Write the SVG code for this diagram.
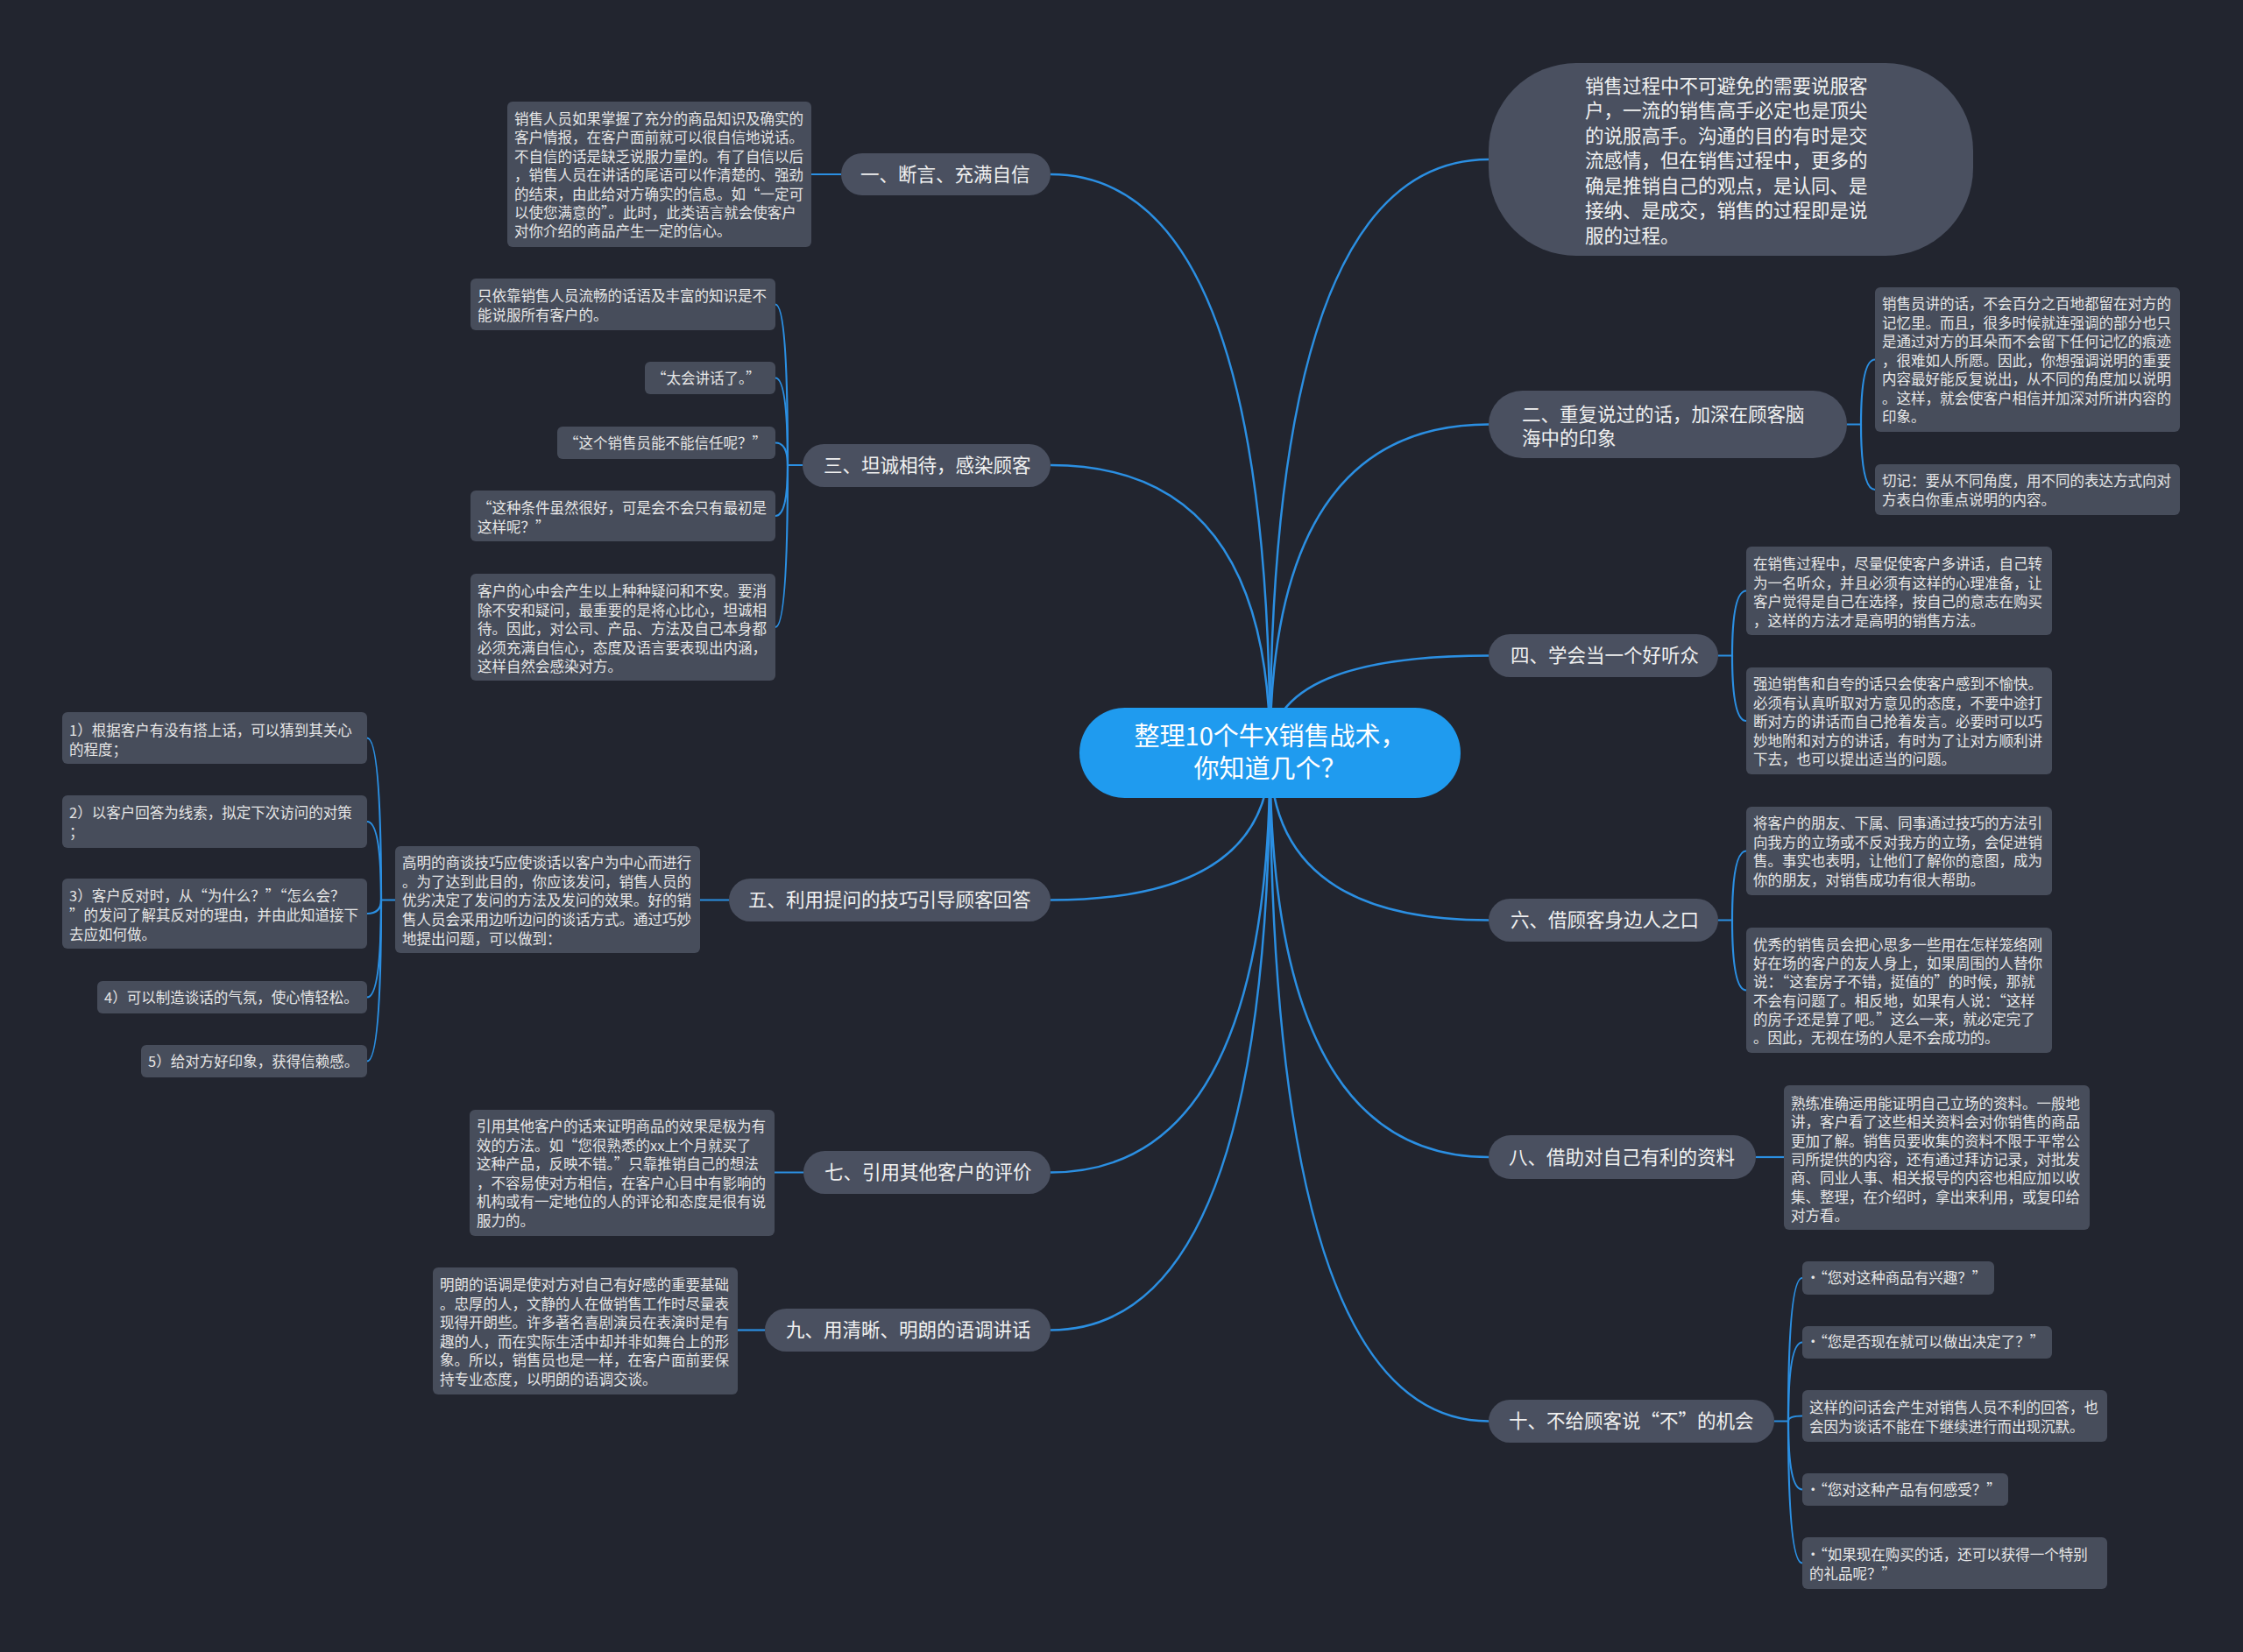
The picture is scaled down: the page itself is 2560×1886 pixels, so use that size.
<svg xmlns="http://www.w3.org/2000/svg" width="2560" height="1886" viewBox="0 0 2560 1886">
<style>
.n{fill:#4a5060}
.b{fill:#474d5b}
.c{fill:#1f9bef}
.tm{font-family:"Noto Sans CJK SC","Noto Sans",sans-serif;font-size:21.5px;fill:#f0f0f0}
.ts{font-family:"Noto Sans CJK SC","Noto Sans",sans-serif;font-size:16.5px;fill:#e6e6e6}
.tc{font-family:"Noto Sans CJK SC","Noto Sans",sans-serif;font-size:29px;fill:#ffffff;text-anchor:middle}
.l{fill:none;stroke:#2b8fe2;stroke-width:2.5}
.s{fill:none;stroke:#2b8fe2;stroke-width:2.2}
</style>
<rect x="0" y="0" width="2560" height="1886" fill="#22252f"/>
<g id="connectors">
<path class="l" d="M1449.5,859.5 Q1449.5,182 1699,182"/>
<path class="l" d="M1449.5,859.5 Q1449.5,484.5 1699,484.5"/>
<path class="l" d="M1449.5,859.5 Q1449.5,748.5 1699,748.5"/>
<path class="l" d="M1449.5,859.5 Q1449.5,1050.5 1699,1050.5"/>
<path class="l" d="M1449.5,859.5 Q1449.5,1321 1699,1321"/>
<path class="l" d="M1449.5,859.5 Q1449.5,1622.5 1699,1622.5"/>
<path class="l" d="M1449.5,859.5 Q1449.5,199 1199,199"/>
<path class="l" d="M1449.5,859.5 Q1449.5,531 1199,531"/>
<path class="l" d="M1449.5,859.5 Q1449.5,1027.5 1199,1027.5"/>
<path class="l" d="M1449.5,859.5 Q1449.5,1338.5 1199,1338.5"/>
<path class="l" d="M1449.5,859.5 Q1449.5,1518.5 1199,1518.5"/>
<path class="s" d="M960,199 H926"/>
<path class="s" d="M916,531 H899 Q899,347.5 885,347.5"/>
<path class="s" d="M899,531 Q899,431.5 885,431.5"/>
<path class="s" d="M899,531 Q899,505.5 885,505.5"/>
<path class="s" d="M899,531 Q899,589 885,589"/>
<path class="s" d="M899,531 Q899,716 885,716"/>
<path class="s" d="M832,1027.5 H799"/>
<path class="s" d="M451,1027.5 H435 Q435,842.5 419,842.5"/>
<path class="s" d="M435,1027.5 Q435,938 419,938"/>
<path class="s" d="M435,1027.5 Q435,1043 419,1043"/>
<path class="s" d="M435,1027.5 Q435,1138.5 419,1138.5"/>
<path class="s" d="M435,1027.5 Q435,1211.5 419,1211.5"/>
<path class="s" d="M917,1338.5 H884"/>
<path class="s" d="M873,1518.5 H842"/>
<path class="s" d="M2108,484.5 H2124 Q2124,410.5 2140,410.5"/>
<path class="s" d="M2124,484.5 Q2124,559 2140,559"/>
<path class="s" d="M1961,748.5 H1977 Q1977,674.5 1993,674.5"/>
<path class="s" d="M1977,748.5 Q1977,823 1993,823"/>
<path class="s" d="M1961,1050.5 H1977 Q1977,971.5 1993,971.5"/>
<path class="s" d="M1977,1050.5 Q1977,1130.5 1993,1130.5"/>
<path class="s" d="M2004,1321 H2036"/>
<path class="s" d="M2025,1622.5 H2041 Q2041,1459 2057,1459"/>
<path class="s" d="M2041,1622.5 Q2041,1532.5 2057,1532.5"/>
<path class="s" d="M2041,1622.5 Q2041,1616.5 2057,1616.5"/>
<path class="s" d="M2041,1622.5 Q2041,1700.5 2057,1700.5"/>
<path class="s" d="M2041,1622.5 Q2041,1784.5 2057,1784.5"/>
</g>
<g id="center">
<rect class="c" x="1232" y="808" width="435" height="103" rx="51.5"/>
<text class="tc" x="1449.5" y="851">整理10个牛X销售战术，</text>
<text class="tc" x="1449.5" y="888">你知道几个？</text>
</g>
<g id="intro">
<rect class="n" x="1699" y="72" width="553" height="220" rx="100"/>
<text class="tm"><tspan x="1809" y="105.5">销售过程中不可避免的需要说服客</tspan><tspan x="1809" y="134">户，一流的销售高手必定也是顶尖</tspan><tspan x="1809" y="162.5">的说服高手。沟通的目的有时是交</tspan><tspan x="1809" y="191">流感情，但在销售过程中，更多的</tspan><tspan x="1809" y="219.5">确是推销自己的观点，是认同、是</tspan><tspan x="1809" y="248">接纳、是成交，销售的过程即是说</tspan><tspan x="1809" y="276.5">服的过程。</tspan></text>
</g>
<g id="n1">
<rect class="n" x="960" y="175" width="239" height="48" rx="24"/>
<text class="tm" x="982" y="206.5">一、断言、充满自信</text>
</g>
<g id="n1-1">
<rect class="b" x="579" y="116" width="347" height="166" rx="6"/>
<text class="ts"><tspan x="587" y="142">销售人员如果掌握了充分的商品知识及确实的</tspan><tspan x="587" y="163.4">客户情报，在客户面前就可以很自信地说话。</tspan><tspan x="587" y="184.8">不自信的话是缺乏说服力量的。有了自信以后</tspan><tspan x="587" y="206.2">，销售人员在讲话的尾语可以作清楚的、强劲</tspan><tspan x="587" y="227.6">的结束，由此给对方确实的信息。如“一定可</tspan><tspan x="587" y="249">以使您满意的”。此时，此类语言就会使客户</tspan><tspan x="587" y="270.4">对你介绍的商品产生一定的信心。</tspan></text>
</g>
<g id="n3">
<rect class="n" x="916" y="507" width="283" height="49" rx="24.5"/>
<text class="tm" x="940" y="539">三、坦诚相待，感染顾客</text>
</g>
<g id="n3-1">
<rect class="b" x="537" y="318" width="348" height="59" rx="6"/>
<text class="ts"><tspan x="545" y="344">只依靠销售人员流畅的话语及丰富的知识是不</tspan><tspan x="545" y="366">能说服所有客户的。</tspan></text>
</g>
<g id="n3-2">
<rect class="b" x="736" y="413" width="149" height="37" rx="6"/>
<text class="ts" x="744" y="437.5">“太会讲话了。”</text>
</g>
<g id="n3-3">
<rect class="b" x="636" y="487" width="249" height="37" rx="6"/>
<text class="ts" x="644" y="511.5">“这个销售员能不能信任呢？”</text>
</g>
<g id="n3-4">
<rect class="b" x="537" y="560" width="348" height="58" rx="6"/>
<text class="ts"><tspan x="545" y="586">“这种条件虽然很好，可是会不会只有最初是</tspan><tspan x="545" y="607.5">这样呢？”</tspan></text>
</g>
<g id="n3-5">
<rect class="b" x="537" y="655" width="348" height="122" rx="6"/>
<text class="ts"><tspan x="545" y="681">客户的心中会产生以上种种疑问和不安。要消</tspan><tspan x="545" y="702.5">除不安和疑问，最重要的是将心比心，坦诚相</tspan><tspan x="545" y="724">待。因此，对公司、产品、方法及自己本身都</tspan><tspan x="545" y="745.5">必须充满自信心，态度及语言要表现出内涵，</tspan><tspan x="545" y="767">这样自然会感染对方。</tspan></text>
</g>
<g id="n5">
<rect class="n" x="832" y="1003" width="367" height="49" rx="24.5"/>
<text class="tm" x="854" y="1035">五、利用提问的技巧引导顾客回答</text>
</g>
<g id="n5-1">
<rect class="b" x="451" y="966" width="348" height="122" rx="6"/>
<text class="ts"><tspan x="459" y="991">高明的商谈技巧应使谈话以客户为中心而进行</tspan><tspan x="459" y="1012.7">。为了达到此目的，你应该发问，销售人员的</tspan><tspan x="459" y="1034.4">优劣决定了发问的方法及发问的效果。好的销</tspan><tspan x="459" y="1056.1">售人员会采用边听边问的谈话方式。通过巧妙</tspan><tspan x="459" y="1077.8">地提出问题，可以做到：</tspan></text>
</g>
<g id="n5-1-1">
<rect class="b" x="71" y="813" width="348" height="59" rx="6"/>
<text class="ts"><tspan x="79" y="840">1）根据客户有没有搭上话，可以猜到其关心</tspan><tspan x="79" y="862">的程度；</tspan></text>
</g>
<g id="n5-1-2">
<rect class="b" x="71" y="908" width="348" height="60" rx="6"/>
<text class="ts"><tspan x="79" y="934">2）以客户回答为线索，拟定下次访问的对策</tspan><tspan x="79" y="956">；</tspan></text>
</g>
<g id="n5-1-3">
<rect class="b" x="71" y="1003" width="348" height="80" rx="6"/>
<text class="ts"><tspan x="79" y="1029">3）客户反对时，从“为什么？”“怎么会？</tspan><tspan x="79" y="1051">”的发问了解其反对的理由，并由此知道接下</tspan><tspan x="79" y="1073">去应如何做。</tspan></text>
</g>
<g id="n5-1-4">
<rect class="b" x="111" y="1120" width="308" height="37" rx="6"/>
<text class="ts" x="119" y="1144.5">4）可以制造谈话的气氛，使心情轻松。</text>
</g>
<g id="n5-1-5">
<rect class="b" x="161" y="1193" width="258" height="37" rx="6"/>
<text class="ts" x="169" y="1217.5">5）给对方好印象，获得信赖感。</text>
</g>
<g id="n7">
<rect class="n" x="917" y="1314" width="282" height="49" rx="24.5"/>
<text class="tm" x="941" y="1346">七、引用其他客户的评价</text>
</g>
<g id="n7-1">
<rect class="b" x="536" y="1267" width="348" height="144" rx="6"/>
<text class="ts"><tspan x="544" y="1292">引用其他客户的话来证明商品的效果是极为有</tspan><tspan x="544" y="1313.6">效的方法。如“您很熟悉的xx上个月就买了</tspan><tspan x="544" y="1335.2">这种产品，反映不错。”只靠推销自己的想法</tspan><tspan x="544" y="1356.8">，不容易使对方相信，在客户心目中有影响的</tspan><tspan x="544" y="1378.4">机构或有一定地位的人的评论和态度是很有说</tspan><tspan x="544" y="1400">服力的。</tspan></text>
</g>
<g id="n9">
<rect class="n" x="873" y="1494" width="326" height="49" rx="24.5"/>
<text class="tm" x="897" y="1526">九、用清晰、明朗的语调讲话</text>
</g>
<g id="n9-1">
<rect class="b" x="494" y="1447" width="348" height="145" rx="6"/>
<text class="ts"><tspan x="502" y="1473">明朗的语调是使对方对自己有好感的重要基础</tspan><tspan x="502" y="1494.6">。忠厚的人，文静的人在做销售工作时尽量表</tspan><tspan x="502" y="1516.2">现得开朗些。许多著名喜剧演员在表演时是有</tspan><tspan x="502" y="1537.8">趣的人，而在实际生活中却并非如舞台上的形</tspan><tspan x="502" y="1559.4">象。所以，销售员也是一样，在客户面前要保</tspan><tspan x="502" y="1581">持专业态度，以明朗的语调交谈。</tspan></text>
</g>
<g id="n2">
<rect class="n" x="1699" y="446" width="409" height="77" rx="38.5"/>
<text class="tm"><tspan x="1737" y="480.5">二、重复说过的话，加深在顾客脑</tspan><tspan x="1737" y="507.5">海中的印象</tspan></text>
</g>
<g id="n2-1">
<rect class="b" x="2140" y="328" width="348" height="165" rx="6"/>
<text class="ts"><tspan x="2148" y="353">销售员讲的话，不会百分之百地都留在对方的</tspan><tspan x="2148" y="374.5">记忆里。而且，很多时候就连强调的部分也只</tspan><tspan x="2148" y="396">是通过对方的耳朵而不会留下任何记忆的痕迹</tspan><tspan x="2148" y="417.5">，很难如人所愿。因此，你想强调说明的重要</tspan><tspan x="2148" y="439">内容最好能反复说出，从不同的角度加以说明</tspan><tspan x="2148" y="460.5">。这样，就会使客户相信并加深对所讲内容的</tspan><tspan x="2148" y="482">印象。</tspan></text>
</g>
<g id="n2-2">
<rect class="b" x="2140" y="530" width="348" height="58" rx="6"/>
<text class="ts"><tspan x="2148" y="555">切记：要从不同角度，用不同的表达方式向对</tspan><tspan x="2148" y="576.5">方表白你重点说明的内容。</tspan></text>
</g>
<g id="n4">
<rect class="n" x="1699" y="724" width="262" height="49" rx="24.5"/>
<text class="tm" x="1724" y="756">四、学会当一个好听众</text>
</g>
<g id="n4-1">
<rect class="b" x="1993" y="624" width="349" height="101" rx="6"/>
<text class="ts"><tspan x="2001" y="650">在销售过程中，尽量促使客户多讲话，自己转</tspan><tspan x="2001" y="671.7">为一名听众，并且必须有这样的心理准备，让</tspan><tspan x="2001" y="693.3">客户觉得是自己在选择，按自己的意志在购买</tspan><tspan x="2001" y="715">，这样的方法才是高明的销售方法。</tspan></text>
</g>
<g id="n4-2">
<rect class="b" x="1993" y="762" width="349" height="122" rx="6"/>
<text class="ts"><tspan x="2001" y="787">强迫销售和自夸的话只会使客户感到不愉快。</tspan><tspan x="2001" y="808.5">必须有认真听取对方意见的态度，不要中途打</tspan><tspan x="2001" y="830">断对方的讲话而自己抢着发言。必要时可以巧</tspan><tspan x="2001" y="851.5">妙地附和对方的讲话，有时为了让对方顺利讲</tspan><tspan x="2001" y="873">下去，也可以提出适当的问题。</tspan></text>
</g>
<g id="n6">
<rect class="n" x="1699" y="1026" width="262" height="49" rx="24.5"/>
<text class="tm" x="1724" y="1058">六、借顾客身边人之口</text>
</g>
<g id="n6-1">
<rect class="b" x="1993" y="921" width="349" height="101" rx="6"/>
<text class="ts"><tspan x="2001" y="946">将客户的朋友、下属、同事通过技巧的方法引</tspan><tspan x="2001" y="967.7">向我方的立场或不反对我方的立场，会促进销</tspan><tspan x="2001" y="989.3">售。事实也表明，让他们了解你的意图，成为</tspan><tspan x="2001" y="1011">你的朋友，对销售成功有很大帮助。</tspan></text>
</g>
<g id="n6-2">
<rect class="b" x="1993" y="1059" width="349" height="143" rx="6"/>
<text class="ts"><tspan x="2001" y="1085">优秀的销售员会把心思多一些用在怎样笼络刚</tspan><tspan x="2001" y="1106.2">好在场的客户的友人身上，如果周围的人替你</tspan><tspan x="2001" y="1127.4">说：“这套房子不错，挺值的”的时候，那就</tspan><tspan x="2001" y="1148.6">不会有问题了。相反地，如果有人说：“这样</tspan><tspan x="2001" y="1169.8">的房子还是算了吧。”这么一来，就必定完了</tspan><tspan x="2001" y="1191">。因此，无视在场的人是不会成功的。</tspan></text>
</g>
<g id="n8">
<rect class="n" x="1699" y="1296" width="305" height="50" rx="25"/>
<text class="tm" x="1722" y="1328.5">八、借助对自己有利的资料</text>
</g>
<g id="n8-1">
<rect class="b" x="2036" y="1239" width="349" height="165" rx="6"/>
<text class="ts"><tspan x="2044" y="1266">熟练准确运用能证明自己立场的资料。一般地</tspan><tspan x="2044" y="1287.3">讲，客户看了这些相关资料会对你销售的商品</tspan><tspan x="2044" y="1308.7">更加了解。销售员要收集的资料不限于平常公</tspan><tspan x="2044" y="1330">司所提供的内容，还有通过拜访记录，对批发</tspan><tspan x="2044" y="1351.3">商、同业人事、相关报导的内容也相应加以收</tspan><tspan x="2044" y="1372.7">集、整理，在介绍时，拿出来利用，或复印给</tspan><tspan x="2044" y="1394">对方看。</tspan></text>
</g>
<g id="n10">
<rect class="n" x="1699" y="1598" width="326" height="49" rx="24.5"/>
<text class="tm" x="1722" y="1630">十、不给顾客说“不”的机会</text>
</g>
<g id="n10-1">
<rect class="b" x="2057" y="1440" width="219" height="38" rx="6"/>
<text class="ts" x="2061" y="1465">·“您对这种商品有兴趣？”</text>
</g>
<g id="n10-2">
<rect class="b" x="2057" y="1514" width="285" height="37" rx="6"/>
<text class="ts" x="2061" y="1538">·“您是否现在就可以做出决定了？”</text>
</g>
<g id="n10-3">
<rect class="b" x="2057" y="1587" width="348" height="59" rx="6"/>
<text class="ts"><tspan x="2065" y="1613">这样的问话会产生对销售人员不利的回答，也</tspan><tspan x="2065" y="1635">会因为谈话不能在下继续进行而出现沉默。</tspan></text>
</g>
<g id="n10-4">
<rect class="b" x="2057" y="1682" width="235" height="37" rx="6"/>
<text class="ts" x="2061" y="1707">·“您对这种产品有何感受？”</text>
</g>
<g id="n10-5">
<rect class="b" x="2057" y="1755" width="348" height="59" rx="6"/>
<text class="ts"><tspan x="2061" y="1781">·“如果现在购买的话，还可以获得一个特别</tspan><tspan x="2065" y="1803">的礼品呢？”</tspan></text>
</g>
</svg>
